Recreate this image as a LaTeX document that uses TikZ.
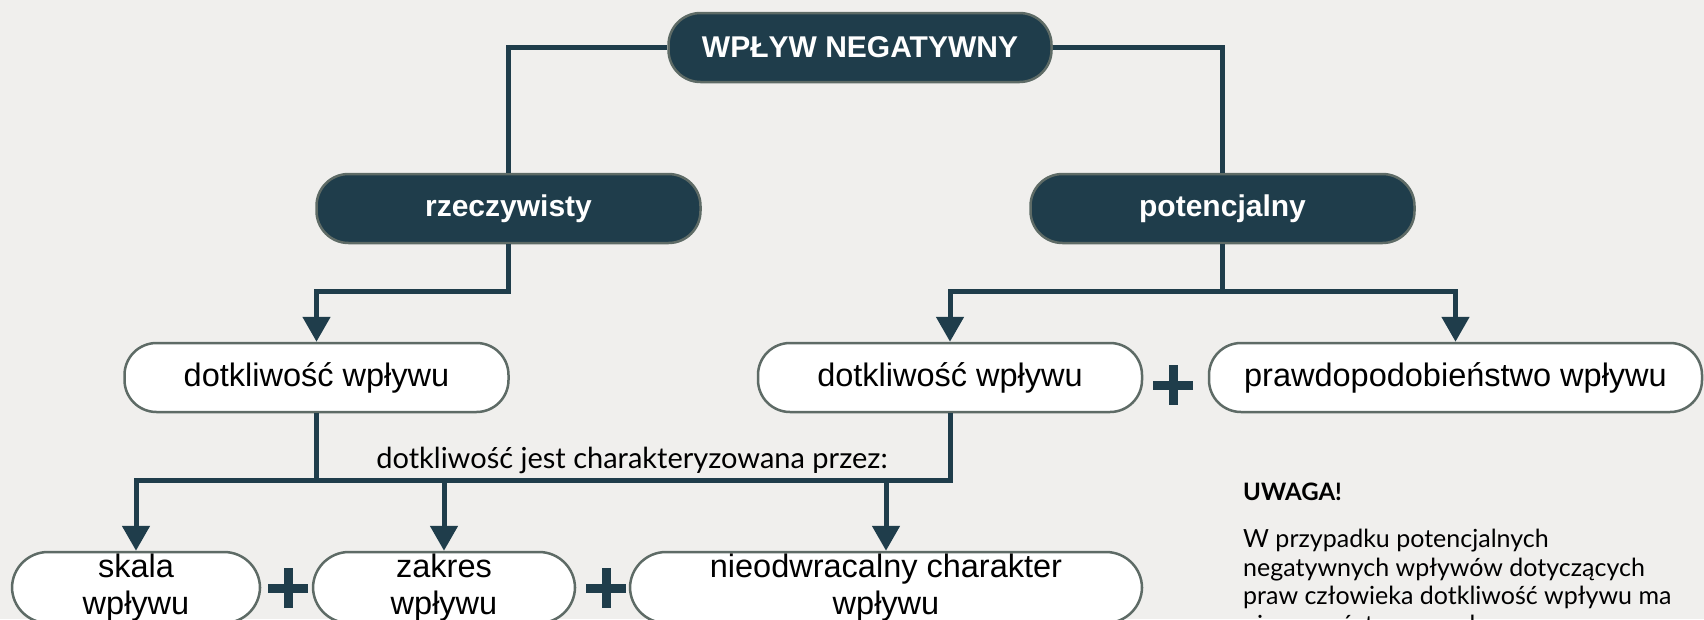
\documentclass[tikz,border=0pt]{standalone}
\usepackage{fontspec}
\setmainfont{Liberation Sans}
\newfontfamily\latofont{Lato}
\usetikzlibrary{arrows.meta}
\definecolor{dark}{HTML}{1F3D4B}
\definecolor{edgec}{HTML}{5E6B66}
\definecolor{bgc}{HTML}{F0EFED}
\begin{document}
\begin{tikzpicture}[x=1pt,y=-1pt,
  headbox/.style={draw=edgec, line width=2.5pt, fill=dark, text=white, rounded corners=32pt,
    minimum height=69pt, inner sep=0pt, font=\bfseries\fontsize{30}{36}\selectfont},
  whitebox/.style={draw=edgec, line width=2.5pt, fill=white, text=black, rounded corners=32pt,
    minimum height=69pt, inner sep=0pt, font=\fontsize{32.5}{37}\selectfont},
  lowbox/.style={whitebox, align=center, rounded corners=36pt, minimum height=71pt},
  wire/.style={draw=dark, line width=5pt, line join=miter},
  arr/.style={wire, -{Triangle[length=25pt,width=27pt]}},
  plussign/.pic={\draw[dark, line width=9pt] (-20,0) -- (20,0) (0,-20) -- (0,20);}
]
\useasboundingbox (0,0) rectangle (1704,619);
\clip (0,0) rectangle (1704,619);
\fill[bgc] (0,0) rectangle (1704,619);

% nodes
\node[headbox, minimum width=383pt] (top) at (860,47.5) {WPŁYW NEGATYWNY};
\node[headbox, minimum width=384pt] (rz) at (508.5,208.5) {rzeczywisty};
\node[headbox, minimum width=384pt] (pot) at (1222.5,208.5) {potencjalny};
\node[whitebox, minimum width=384pt] (dL) at (316.5,377.5) {dotkliwość wpływu};
\node[whitebox, minimum width=384pt] (dR) at (950,377.5) {dotkliwość wpływu};
\node[whitebox, minimum width=493pt] (pr) at (1455.5,377.5) {prawdopodobieństwo wpływu};
\node[lowbox, minimum width=248pt] (sk) at (136,587.5) {skala\\wpływu};
\node[lowbox, minimum width=262pt] (zk) at (444,587.5) {zakres\\wpływu};
\node[lowbox, minimum width=512pt] (nd) at (886,587.5) {nieodwracalny charakter\\wpływu};

\coordinate (lvl) at (0,480);

% connectors
\draw[wire] (top.west) -| (rz.north);
\draw[wire] (top.east) -| (pot.north);
\draw[arr] (rz.south) -- ++(0,47) -| (dL.north);
\draw[arr] (pot.south) -- ++(0,47) coordinate (j2) -| (pr.north);
\draw[arr] (j2) -| (dR.north);
\draw[arr] (dR.south) |- (lvl -| sk.north) -- (sk.north);
\draw[wire] (dL.south) -- (dL.south |- lvl);
\draw[arr] (zk.north |- lvl) -- (zk.north);
\draw[arr] (nd.north |- lvl) -- (nd.north);

% plus signs
\pic at (1173,385) {plussign};
\pic at (288,588) {plussign};
\pic at (606,588) {plussign};

% texts
\node[anchor=base, inner sep=0pt, font=\latofont\fontsize{29}{34}\selectfont] (lbl) at (632,468) {dotkliwość jest charakteryzowana przez:};
\node[anchor=base west, inner sep=0pt, font=\latofont\bfseries\fontsize{24}{28}\selectfont] (uw) at (1243,500) {UWAGA!};
\node[anchor=north west, inner sep=0pt, align=left, font=\latofont\fontsize{25}{28.5}\selectfont] (note) at (1243,529)
  {W przypadku potencjalnych\\negatywnych wpływów dotyczących\\praw człowieka dotkliwość wpływu ma\\pierwszeństwo przed\\prawdopodobieństwem.};
\end{tikzpicture}
\end{document}
